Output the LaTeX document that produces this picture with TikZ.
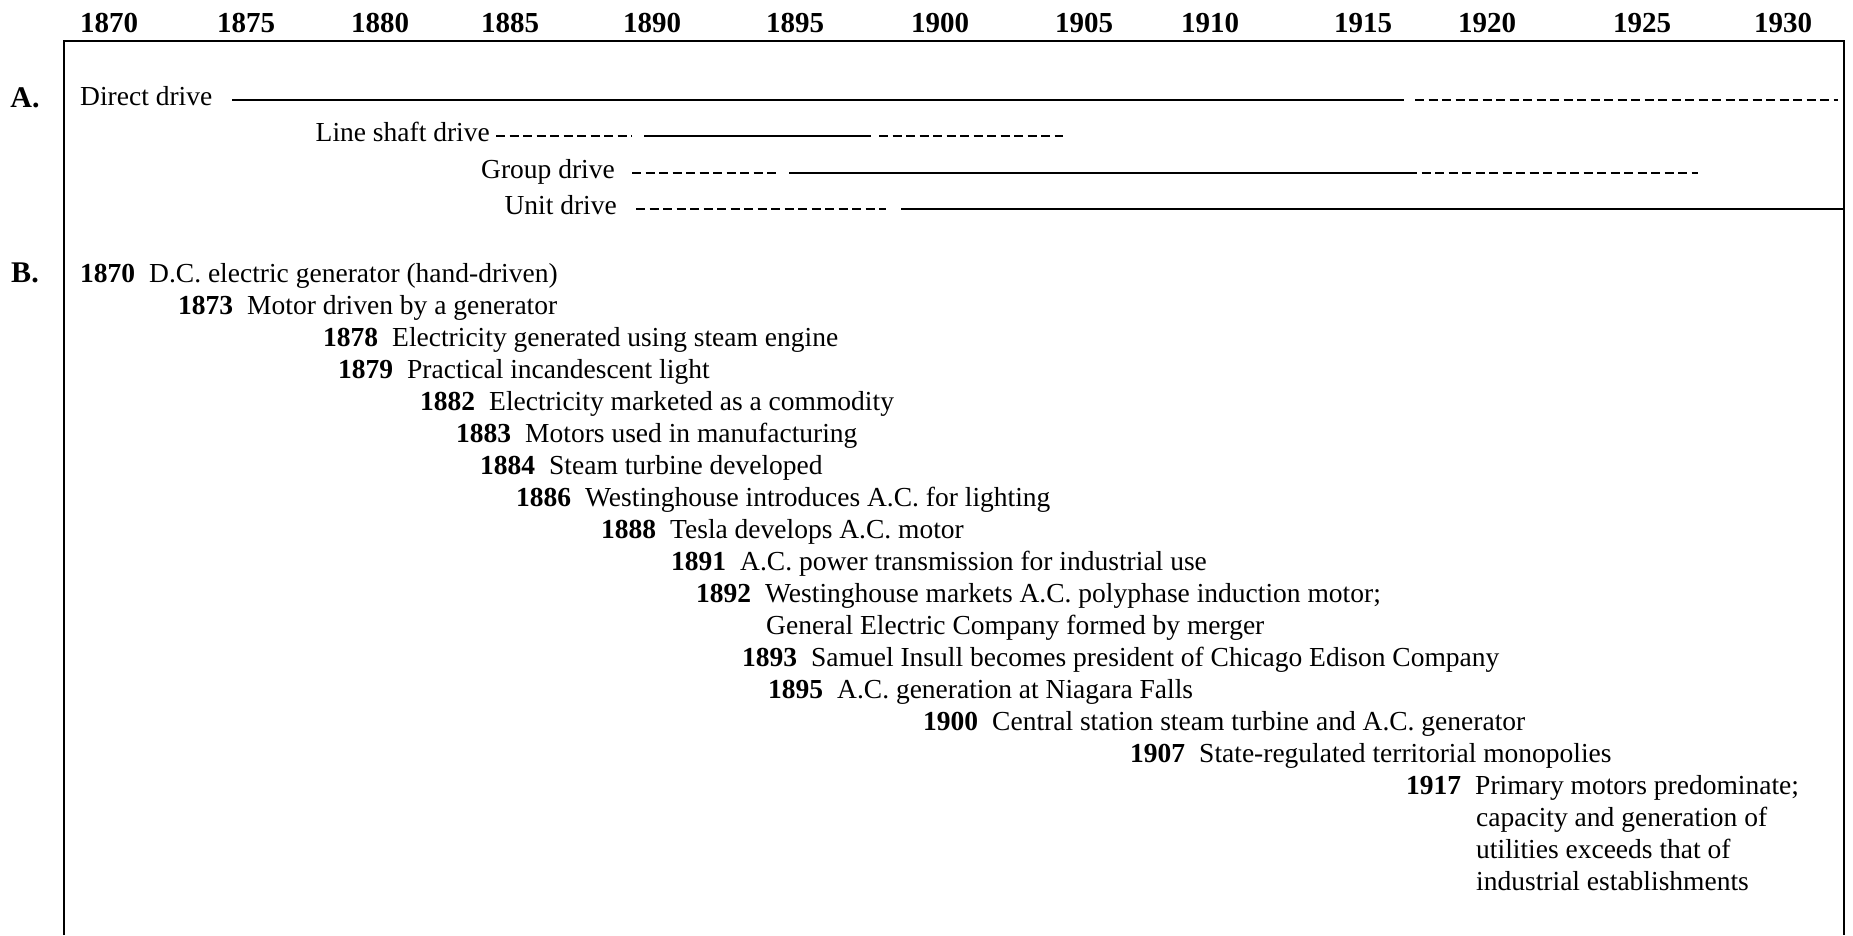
\documentclass[tikz,border=0pt]{standalone}
\usepackage{fontspec}
\setmainfont{Liberation Serif}
\begin{document}
\begin{tikzpicture}[x=1pt,y=-1pt,
  yr/.style={font=\fontsize{29}{34}\selectfont\bfseries, anchor=base, inner sep=0pt},
  sec/.style={font=\fontsize{30}{36}\selectfont\bfseries, anchor=base, inner sep=0pt},
  txt/.style={font=\fontsize{27.5}{32}\selectfont, anchor=base west, inner sep=0pt},
  drv/.style={font=\fontsize{27.5}{32}\selectfont, anchor=base east, inner sep=0pt},
  solidln/.style={line width=2.2pt},
  dashln/.style={line width=2pt, dash pattern=on 9pt off 4.5pt},
  frame/.style={line width=1.8pt}]
\useasboundingbox (0,0) rectangle (1853,935);

% frame
\coordinate (fbl) at (64,935);
\coordinate (ftl) at (64,41);
\coordinate (ftr) at (1844,41);
\coordinate (fbr) at (1844,935);
\draw[frame] (fbl) -- (ftl) -- (ftr) -- (fbr);

% year header
\foreach \y/\x in {1870/109,1875/246,1880/380,1885/510,1890/652,1895/795,1900/940,1905/1084,1910/1210,1915/1363,1920/1487,1925/1642,1930/1783}
  \node[yr] (h\y) at (\x,32) {\y};

% section labels
\node[sec] (secA) at (25,107) {A.};
\node[sec] (secB) at (25,282) {B.};

% A. drives
\node[txt] (dd) at (80,105) {Direct drive};
\node[drv] (ls) at (490,141) {Line shaft drive};
\node[drv] (gd) at (615,178) {Group drive};
\node[drv] (ud) at (617,214) {Unit drive};

\coordinate (dd1) at (232,100);
\coordinate (dd2) at (1404,100);
\coordinate (dd3) at (1415,100);
\coordinate (dd4) at (1838,100);
\draw[solidln] (dd1) -- (dd2);
\draw[dashln] (dd3) -- (dd4);

\coordinate (ls1) at (496,136);
\coordinate (ls2) at (632,136);
\coordinate (ls3) at (644,136);
\coordinate (ls4) at (871,136);
\coordinate (ls5) at (879,136);
\coordinate (ls6) at (1063,136);
\draw[dashln] (ls1) -- (ls2);
\draw[solidln] (ls3) -- (ls4);
\draw[dashln] (ls5) -- (ls6);

\coordinate (gd1) at (632,173);
\coordinate (gd2) at (778,173);
\coordinate (gd3) at (789,173);
\coordinate (gd4) at (1408,173);
\coordinate (gd5) at (1698,173);
\draw[dashln] (gd1) -- (gd2);
\draw[solidln] (gd3) -- (gd4);
\draw[dashln] (gd4) -- (gd5);

\coordinate (ud1) at (636,209);
\coordinate (ud2) at (886,209);
\coordinate (ud3) at (901,209);
\coordinate (ud4) at (1844,209);
\draw[dashln] (ud1) -- (ud2);
\draw[solidln] (ud3) -- (ud4);

% B. events
\newcommand{\ev}[2]{\textbf{#1}\hspace{14pt}#2}
\node[txt] (e1870) at (80,282)  {\ev{1870}{D.C. electric generator (hand-driven)}};
\node[txt] (e1873) at (178,314) {\ev{1873}{Motor driven by a generator}};
\node[txt] (e1878) at (323,346) {\ev{1878}{Electricity generated using steam engine}};
\node[txt] (e1879) at (338,378) {\ev{1879}{Practical incandescent light}};
\node[txt] (e1882) at (420,410) {\ev{1882}{Electricity marketed as a commodity}};
\node[txt] (e1883) at (456,442) {\ev{1883}{Motors used in manufacturing}};
\node[txt] (e1884) at (480,474) {\ev{1884}{Steam turbine developed}};
\node[txt] (e1886) at (516,506) {\ev{1886}{Westinghouse introduces A.C. for lighting}};
\node[txt] (e1888) at (601,538) {\ev{1888}{Tesla develops A.C. motor}};
\node[txt] (e1891) at (671,570) {\ev{1891}{A.C. power transmission for industrial use}};
\node[txt] (e1892) at (696,602) {\ev{1892}{Westinghouse markets A.C. polyphase induction motor;}};
\node[txt] (e1892b) at (766,634) {General Electric Company formed by merger};
\node[txt] (e1893) at (742,666) {\ev{1893}{Samuel Insull becomes president of Chicago Edison Company}};
\node[txt] (e1895) at (768,698) {\ev{1895}{A.C. generation at Niagara Falls}};
\node[txt] (e1900) at (923,730) {\ev{1900}{Central station steam turbine and A.C. generator}};
\node[txt] (e1907) at (1130,762) {\ev{1907}{State-regulated territorial monopolies}};
\node[txt] (e1917) at (1406,794) {\ev{1917}{Primary motors predominate;}};
\node[txt] (e1917b) at (1476,826) {capacity and generation of};
\node[txt] (e1917c) at (1476,858) {utilities exceeds that of};
\node[txt] (e1917d) at (1476,890) {industrial establishments};
\end{tikzpicture}
\end{document}
